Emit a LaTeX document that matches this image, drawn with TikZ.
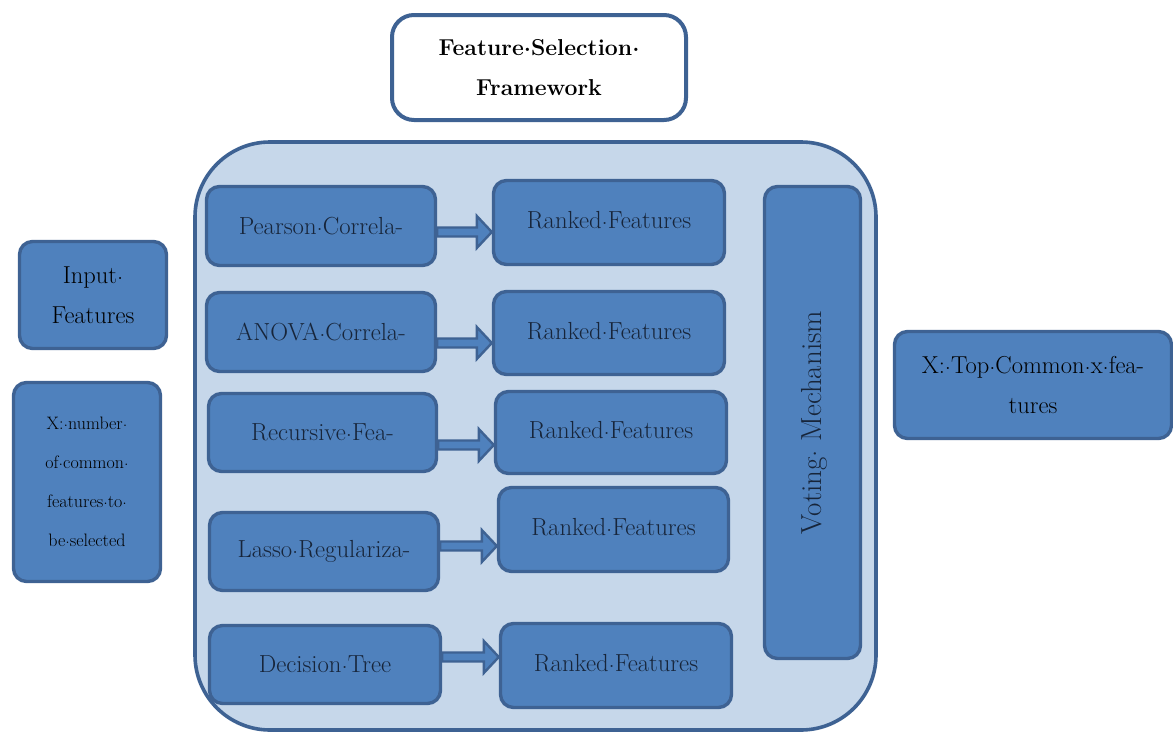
\documentclass[tikz,border=0pt]{standalone}
\usetikzlibrary{calc}
\definecolor{boxblue}{HTML}{4F81BD}
\definecolor{edgeblue}{HTML}{3E6293}
\definecolor{lightblue}{HTML}{C6D7EA}
\definecolor{navytext}{HTML}{17253A}
\newcommand\mdot{\raisebox{.17em}{.}}
\tikzset{
  bluebox/.style={draw=edgeblue, fill=boxblue, line width=3.4pt, rounded corners=13pt, inner sep=0pt, align=center},
  innertxt/.style={text=navytext, font=\fontsize{24.7}{40}\selectfont},
  outertxt/.style={text=black, font=\fontsize{24.5}{40}\selectfont},
  frame/.style={draw=edgeblue, fill=lightblue, line width=3.6pt, rounded corners=75pt},
  titlebox/.style={draw=edgeblue, fill=white, line width=4pt, rounded corners=22pt, align=center, font=\bfseries\fontsize{23}{40}\selectfont},
  blockarrow/.style={draw=edgeblue, fill=boxblue, line width=2.4pt, line join=miter}
}
\newcommand\blockarrow[3]{%
  \path[blockarrow] let \p1=(#1.east), \p2=(#2.west) in
    (\x1,-#3pt+4.5pt) -- (\x2-15pt,-#3pt+4.5pt) -- (\x2-15pt,-#3pt+16pt) -- (\x2,-#3pt)
    -- (\x2-15pt,-#3pt-16pt) -- (\x2-15pt,-#3pt-4.5pt) -- (\x1,-#3pt-4.5pt) -- cycle;}
\begin{document}
\begin{tikzpicture}[x=1pt,y=1pt]
\useasboundingbox (0,0) rectangle (1173,-734);
% title
\node[titlebox, minimum width=294pt, minimum height=105pt] (title) at (539,-67.5) {Feature\mdot Selection\mdot\\Framework};
% outer frame
\node[frame, minimum width=681pt, minimum height=588pt] (frame) at (535.5,-436) {};
% left column
\node[bluebox, innertxt, minimum width=229pt, minimum height=79pt] (m1) at (321,-226) {Pearson\mdot Correla-};
\node[bluebox, innertxt, minimum width=229pt, minimum height=79pt] (m2) at (321,-332) {ANOVA\mdot Correla-};
\node[bluebox, innertxt, minimum width=228pt, minimum height=78pt] (m3) at (322.5,-432.5) {Recursive\mdot Fea-};
\node[bluebox, innertxt, minimum width=229pt, minimum height=78pt] (m4) at (324,-551.5) {Lasso\mdot Regulariza-};
\node[bluebox, innertxt, minimum width=231pt, minimum height=78pt] (m5) at (325,-664.5) {Decision\mdot Tree};
% right column
\node[bluebox, innertxt, minimum width=231pt, minimum height=84pt] (r1) at (609,-222.5) {\raisebox{5pt}{Ranked\mdot Features}};
\node[bluebox, innertxt, minimum width=231pt, minimum height=83pt] (r2) at (609,-333) {\raisebox{5pt}{Ranked\mdot Features}};
\node[bluebox, innertxt, minimum width=231pt, minimum height=82pt] (r3) at (611,-432.5) {\raisebox{5pt}{Ranked\mdot Features}};
\node[bluebox, innertxt, minimum width=230pt, minimum height=84pt] (r4) at (613.5,-529.5) {\raisebox{5pt}{Ranked\mdot Features}};
\node[bluebox, innertxt, minimum width=231pt, minimum height=84pt] (r5) at (616,-665.5) {\raisebox{5pt}{Ranked\mdot Features}};
% voting
\node[bluebox, minimum width=96pt, minimum height=472pt] (vote) at (812.5,-422.5) {};
\node[text=navytext, font=\fontsize{29}{30}\selectfont, rotate=90] (votetxt) at (814,-422.5) {Voting\mdot\ Mechanism};
% outside boxes
\node[bluebox, outertxt, minimum width=147pt, minimum height=107pt] (input) at (93,-295) {Input\mdot\\Features};
\node[bluebox, text=black, font=\fontsize{18}{39}\selectfont, minimum width=147pt, minimum height=199pt] (xnum) at (87,-482) {X:\mdot number\mdot\\of\mdot common\mdot\\features\mdot to\mdot\\be\mdot selected};
\node[bluebox, outertxt, minimum width=277pt, minimum height=107pt] (top) at (1033,-385) {X:\mdot Top\mdot Common\mdot x\mdot fea-\\tures};
% arrows
\blockarrow{m1}{r1}{232}
\blockarrow{m2}{r2}{343}
\blockarrow{m3}{r3}{445}
\blockarrow{m4}{r4}{546}
\blockarrow{m5}{r5}{657}
\end{tikzpicture}
\end{document}
